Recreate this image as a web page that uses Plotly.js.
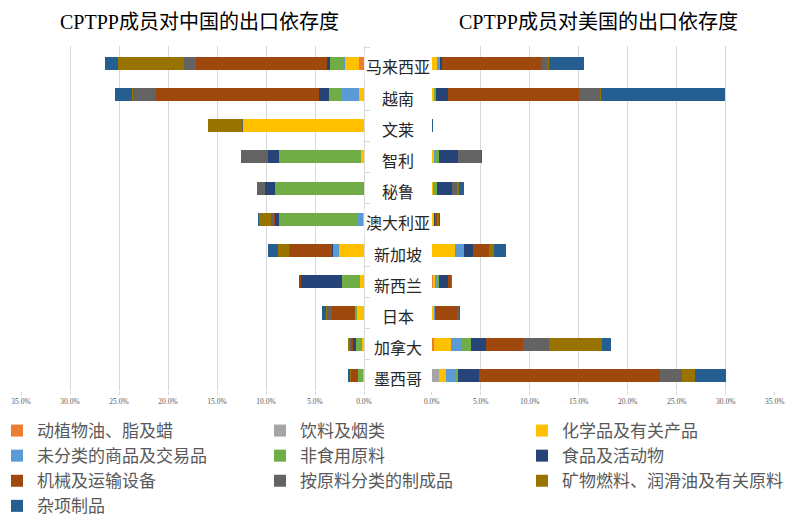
<!DOCTYPE html>
<html><head><meta charset="utf-8">
<script src="https://cdn.plot.ly/plotly-3.0.1.min.js"></script>
<style>html,body{margin:0;padding:0;background:#fff}#chart{width:804px;height:518px}</style>
</head><body><div id="chart"></div>
<script>
// Countries (top to bottom)
const countries = ["马来西亚","越南","文莱","智利","秘鲁","澳大利亚","新加坡","新西兰","日本","加拿大","墨西哥"];

// Series names and colours (stack order from the centre outward)
const seriesNames = ["动植物油、脂及蜡","饮料及烟类","化学品及有关产品","未分类的商品及交易品","非食用原料","食品及活动物","机械及运输设备","按原料分类的制成品","矿物燃料、润滑油及有关原料","杂项制品"];
const seriesColors = ["#ED7D31","#A5A5A5","#FFC000","#5B9BD5","#70AD47","#264478","#9E480E","#636363","#997300","#255E91"];

// Export dependency on China (%)
const cnAnimalOils   = [0.50,0.02,0.00,0.00,0.00,0.00,0.00,0.02,0.02,0.02,0.00];
const cnBeverages    = [0.02,0.02,0.00,0.02,0.01,0.03,0.03,0.03,0.01,0.02,0.02];
const cnChemicals    = [1.46,0.51,12.38,0.31,0.03,0.05,2.48,0.37,0.68,0.14,0.05];
const cnUnclassified = [0.05,1.84,0.00,0.02,0.02,0.65,0.58,0.05,0.05,0.03,0.02];
const cnCrude        = [1.43,1.22,0.00,8.37,9.05,7.93,0.10,1.73,0.14,0.61,0.48];
const cnFood         = [0.34,0.95,0.00,1.05,1.02,0.44,0.05,4.22,0.03,0.31,0.03];
const cnMachinery    = [13.30,16.70,0.01,0.03,0.02,0.05,4.35,0.10,2.38,0.15,0.75];
const cnManufactured = [1.29,2.31,0.01,2.72,0.78,0.34,0.10,0.04,0.51,0.13,0.02];
const cnFuels        = [6.73,0.14,3.47,0.02,0.01,1.26,1.05,0.02,0.02,0.20,0.01];
const cnMisc         = [1.33,1.70,0.03,0.02,0.01,0.02,1.09,0.01,0.44,0.02,0.24];

// Export dependency on the US (%)
const usAnimalOils   = [0.02,0.02,0.00,0.02,0.01,0.01,0.02,0.13,0.02,0.20,0.02];
const usBeverages    = [0.02,0.02,0.00,0.02,0.02,0.02,0.02,0.05,0.02,0.05,0.75];
const usChemicals    = [0.51,0.20,0.00,0.20,0.13,0.17,2.38,0.20,0.24,1.67,0.71];
const usUnclassified = [0.27,0.03,0.00,0.15,0.03,0.02,0.85,0.17,0.03,1.05,0.99];
const usCrude        = [0.03,0.17,0.00,0.36,0.34,0.02,0.02,0.20,0.02,1.09,0.17];
const usFood         = [0.20,1.22,0.00,1.90,1.56,0.05,0.92,0.95,0.03,1.50,2.21];
const usMachinery    = [10.24,13.37,0.00,0.05,0.03,0.20,1.63,0.27,2.21,3.74,18.40];
const usManufactured = [0.61,2.18,0.00,2.35,0.51,0.10,0.05,0.03,0.17,2.62,2.31];
const usFuels        = [0.03,0.02,0.00,0.02,0.20,0.15,0.48,0.02,0.02,5.48,1.29];
const usMisc         = [3.64,12.65,0.13,0.02,0.51,0.13,1.26,0.03,0.17,0.88,3.16];

const leftTitle = "CPTPP成员对中国的出口依存度";
const rightTitle = "CPTPP成员对美国的出口依存度";

const cnSeries = [cnAnimalOils,cnBeverages,cnChemicals,cnUnclassified,cnCrude,cnFood,cnMachinery,cnManufactured,cnFuels,cnMisc];
const usSeries = [usAnimalOils,usBeverages,usChemicals,usUnclassified,usCrude,usFood,usMachinery,usManufactured,usFuels,usMisc];

const legendIds = ['legend','legend2','legend3'];
const traces = [];
seriesNames.forEach((name, i) => {
  traces.push({type:'bar', orientation:'h', y:countries, x:cnSeries[i], xaxis:'x', yaxis:'y',
    name:name, legendgroup:name, legend:legendIds[i % 3], showlegend:true, width:0.42,
    marker:{color:seriesColors[i], line:{width:0}}, hoverinfo:'x+name'});
});
seriesNames.forEach((name, i) => {
  traces.push({type:'bar', orientation:'h', y:countries, x:usSeries[i], xaxis:'x2', yaxis:'y',
    name:name, legendgroup:name, legend:legendIds[i % 3], showlegend:false, width:0.42,
    marker:{color:seriesColors[i], line:{width:0}}, hoverinfo:'x+name'});
});

const tickFont = {family:'Liberation Serif, Noto Sans CJK SC', size:7.5, color:'#595959'};
const xCommon = {dtick:5, tick0:0, ticksuffix:'%', tickformat:'.1f', showgrid:true, gridcolor:'#d9d9d9', gridwidth:1,
  zeroline:false, ticks:'outside', ticklen:3, tickcolor:'#d9d9d9', tickfont:tickFont, anchor:'y', fixedrange:true, showline:false};

const annotations = [
  {text:leftTitle, xref:'paper', yref:'paper', x:199/804, y:1-22/518, xanchor:'center', yanchor:'middle', showarrow:false,
   font:{family:'Liberation Serif, Noto Sans CJK SC', size:20, color:'#000000'}},
  {text:rightTitle, xref:'paper', yref:'paper', x:598/804, y:1-22/518, xanchor:'center', yanchor:'middle', showarrow:false,
   font:{family:'Liberation Serif, Noto Sans CJK SC', size:20, color:'#000000'}}
];
countries.forEach(c => {
  annotations.push({text:c, xref:'paper', yref:'y', x:398/804, y:c, xanchor:'center', yanchor:'middle', yshift:-3,
    showarrow:false, bgcolor:'#ffffff', font:{family:'Noto Sans CJK SC', size:16, color:'#262626'}});
});

const legendCommon = {orientation:'v', xanchor:'left', y:1-413/518, yanchor:'top', tracegroupgap:0,
  font:{family:'Noto Sans CJK SC', size:17, color:'#595959'}, traceorder:'normal', bgcolor:'rgba(0,0,0,0)', borderwidth:0};

const layout = {
  width:804, height:518, barmode:'stack',
  margin:{l:0, r:0, t:0, b:0, autoexpand:false},
  paper_bgcolor:'#ffffff', plot_bgcolor:'rgba(0,0,0,0)',
  font:{family:'Noto Sans CJK SC'},
  xaxis:Object.assign({}, xCommon, {domain:[21/804, 364/804], range:[35,0]}),
  xaxis2:Object.assign({}, xCommon, {domain:[431.7/804, 774.7/804], range:[0,35]}),
  yaxis:{domain:[1-391/518, 1-46.3/518], type:'category', categoryorder:'array', categoryarray:countries,
    autorange:'reversed', side:'right', anchor:'x', showticklabels:false, showline:true, linecolor:'#d9d9d9',
    ticks:'outside', tickson:'boundaries', ticklen:5, tickcolor:'#d9d9d9', showgrid:false, zeroline:false, fixedrange:true},
  legend:Object.assign({}, legendCommon, {x:-3/804}),
  legend2:Object.assign({}, legendCommon, {x:260/804}),
  legend3:Object.assign({}, legendCommon, {x:522/804}),
  annotations:annotations,
  showlegend:true
};

Plotly.newPlot('chart', traces, layout, {displayModeBar:false, staticPlot:true});
</script>
</body></html>
